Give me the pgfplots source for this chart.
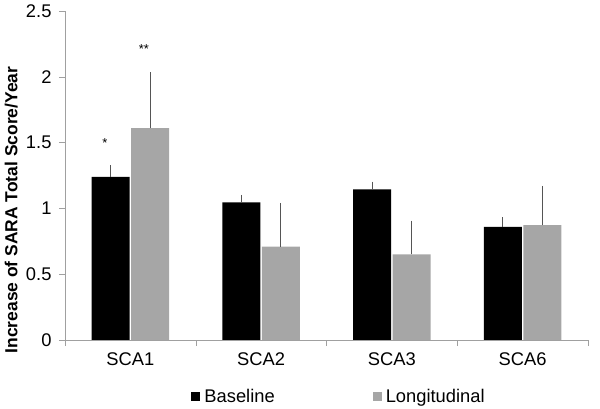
\documentclass[border=0pt]{standalone}
\usepackage{pgfplots}
\pgfplotsset{compat=1.18}
\usepackage{fontspec}
\setmainfont{Liberation Sans}
\definecolor{lgray}{HTML}{A6A6A6}
\definecolor{axgray}{HTML}{A0A0A0}
\definecolor{errgray}{HTML}{555555}
\begin{document}
\begin{tikzpicture}
\useasboundingbox (-65bp,-69bp) rectangle (535bp,340bp);
\begin{axis}[
  scale only axis,
  width=523bp, height=329bp,
  xmin=0, xmax=4,
  ymin=0, ymax=2.5,
  ytick={0,0.5,...,2.5},
  yticklabels={0,0.5,1,1.5,2,2.5},
  xtick={0.5,1.5,2.5,3.5},
  xticklabels={SCA1,SCA2,SCA3,SCA6},
  minor xtick={0,1,2,3,4},
  major x tick style={draw=none},
  minor tick length=6bp,
  major tick length=6bp,
  tick align=outside,
  axis x line*=bottom,
  axis y line*=left,
  axis line style={axgray,-},
  tick style={axgray},
  ybar=1.5bp,
  bar width=38bp,
  /pgf/number format/assume math mode=true,
  tick label style={font=\fontsize{18.4}{21}\selectfont, black},
  yticklabel style={xshift=-4bp},
  xticklabel style={yshift=-3bp},
  ylabel={\bfseries Increase of SARA Total Score/Year},
  ylabel style={font=\fontsize{17.5}{21}\selectfont, at={(axis description cs:-0.103,0.395)}, anchor=center},
  legend style={draw=none, at={(axis description cs:0.524,-0.173)}, anchor=center,
    font=\fontsize{18.4}{21}\selectfont, legend columns=2,
    /tikz/every even column/.append style={column sep=96bp}},
  legend image code/.code={\fill[#1] (0bp,-4.5bp) rectangle (9bp,4.5bp); \path (11bp,0bp);},
  error bars/y dir=plus,
  error bars/y explicit,
  error bars/error bar style={errgray, line width=0.8bp},
  error bars/error mark options={errgray, mark size=3bp, line width=0.8bp},
]
\addplot[fill=black, draw=none] coordinates {
  (0.5,1.24) +- (0,0.065)
  (1.5,1.045) +- (0,0.035)
  (2.5,1.145) +- (0,0.035)
  (3.5,0.86) +- (0,0.05)
};
\addplot[fill=lgray, draw=none] coordinates {
  (0.5,1.61) +- (0,0.40)
  (1.5,0.71) +- (0,0.31)
  (2.5,0.65) +- (0,0.235)
  (3.5,0.873) +- (0,0.275)
};
\legend{Baseline,Longitudinal}
\node[font=\fontsize{13}{15}\selectfont] at (axis cs:0.306,1.50) {*};
\node[font=\fontsize{13}{15}\selectfont] at (axis cs:0.604,2.21) {**};
\end{axis}
\end{tikzpicture}
\end{document}
